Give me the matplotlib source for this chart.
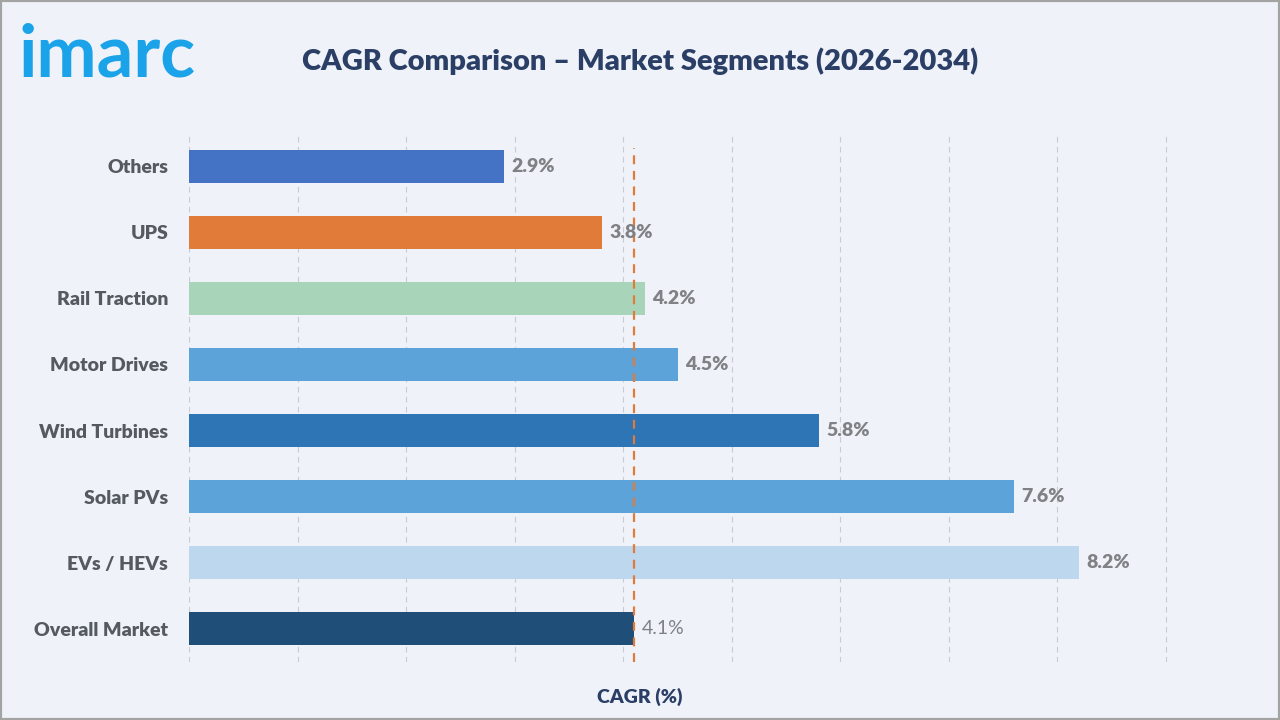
import matplotlib
matplotlib.use("Agg")
import matplotlib.pyplot as plt
from matplotlib.patches import Rectangle

categories = ["Overall Market", "EVs / HEVs", "Solar PVs", "Wind Turbines",
              "Motor Drives", "Rail Traction", "UPS", "Others"]
cagr = [4.1, 8.2, 7.6, 5.8, 4.5, 4.2, 3.8, 2.9]
colors = ["#1F4E79", "#BDD7EE", "#5BA3D9", "#2E75B6",
          "#5BA3D9", "#A8D5BA", "#E07B39", "#4472C4"]
reference_value = 4.1
x_ticks = list(range(0, 10))

BG = "#EFF3F9"
NAVY = "#2B3F66"
FONT = ["Lato", "DejaVu Sans"]

plt.rcParams["font.family"] = FONT

fig = plt.figure(figsize=(12.8, 7.2), dpi=100, facecolor=BG)
ax = fig.add_axes([189 / 1280, 1 - 662 / 720, 979 / 1280, 529 / 720])
ax.set_facecolor(BG)

ypos = list(range(len(categories)))
ax.barh(ypos, cagr, height=0.5, color=colors, zorder=3)
ax.set_ylim(-0.5, 7.5)
ax.set_xlim(0, 9 * 979 / 977)
ax.set_xticks(x_ticks)
ax.xaxis.grid(True, linestyle=(0, (5, 4)), color="#C8CCD2", linewidth=0.8, zorder=0)
ax.tick_params(axis="x", length=0, labelbottom=False)
ax.tick_params(axis="y", length=0, pad=15)
ax.set_yticks(ypos)
ax.set_yticklabels(categories, fontsize=14, fontweight="heavy", color="#555A60")
for s in ax.spines.values():
    s.set_visible(False)

for i, v in enumerate(cagr):
    ax.text(v + 0.07, i, f"{v}%", va="center", ha="left", fontsize=14,
            fontweight="normal" if i == 0 else "heavy", color="#7F8185", zorder=5)

ax.plot([reference_value, reference_value], [-0.5, 7.27], color="#E07B39",
        linestyle=(0, (4, 3)), linewidth=1.6, zorder=4)

fig.text(640 / 1280, 1 - 697 / 720, "CAGR (%)", ha="center", va="center",
         fontsize=14, fontweight="heavy", color=NAVY)

fig.text(640 / 1280, 1 - 61 / 720, "CAGR Comparison – Market Segments (2026-2034)",
         ha="center", va="center", fontsize=21, fontweight="heavy", color=NAVY)

fig.text(18 / 1280, 1 - 56 / 720, "imarc", ha="left", va="center",
         fontsize=52, fontweight="bold", color="#1AA3E8")

fig.patches.append(Rectangle((0, 0), 1, 1, transform=fig.transFigure,
                             fill=False, edgecolor="#A3A3A3", linewidth=3))

fig.savefig("out.png", dpi=100, facecolor=BG)
